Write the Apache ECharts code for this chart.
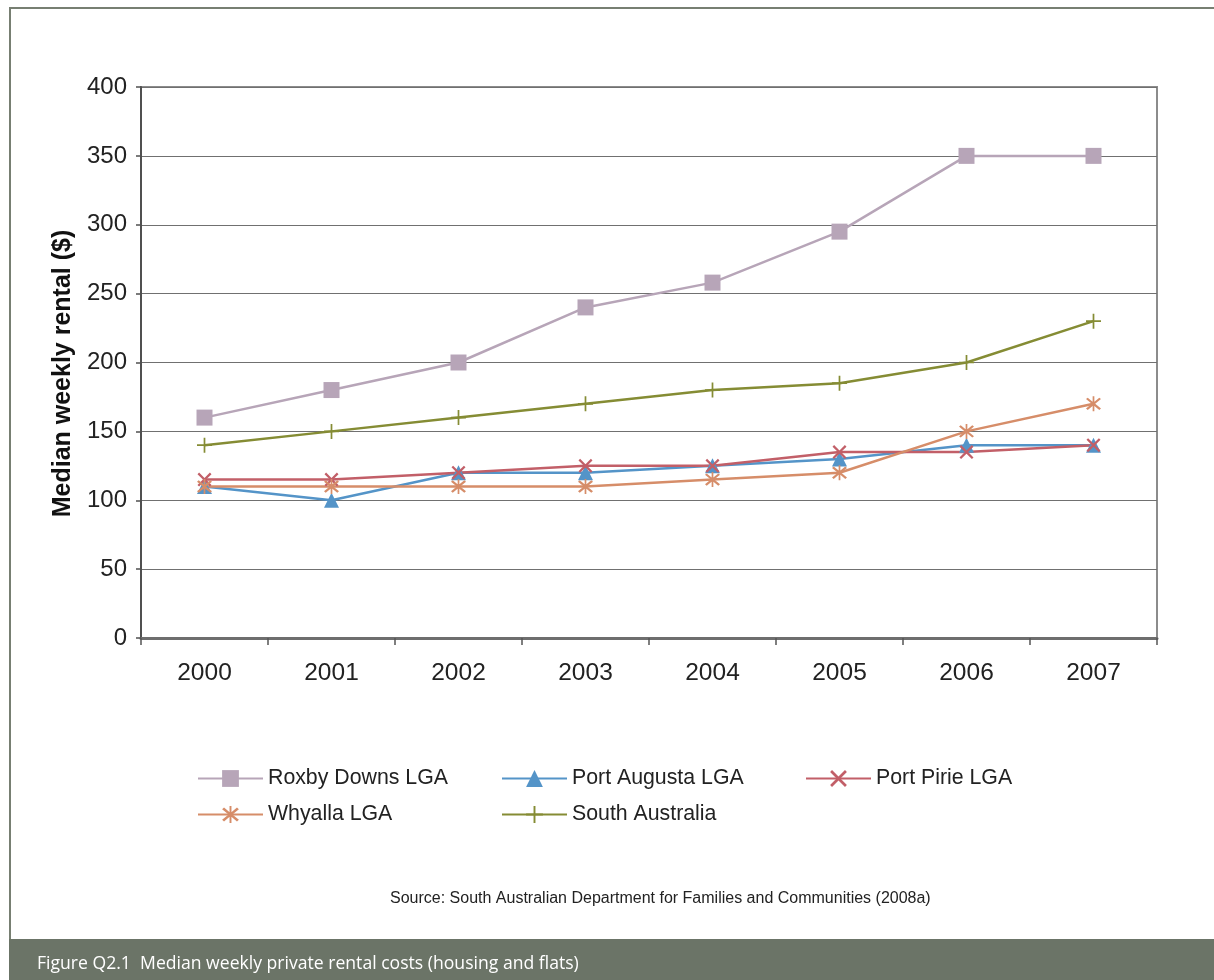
<!DOCTYPE html>
<html>
<head>
<meta charset="utf-8">
<title>Median weekly private rental costs</title>
<script src="https://cdn.jsdelivr.net/npm/echarts@6/dist/echarts.min.js"></script>
<style>
  html, body { margin: 0; padding: 0; background: #ffffff; }
  #chart { width: 1214px; height: 980px; }
</style>
</head>
<body>
<div id="chart"></div>
<script>
// Years on the category axis
const years = ['2000', '2001', '2002', '2003', '2004', '2005', '2006', '2007'];

// Median weekly rent ($) by area
const roxbyDowns   = [160, 180, 200, 240, 258, 295, 350, 350];
const portAugusta  = [110, 100, 120, 120, 125, 130, 140, 140];
const portPirie    = [115, 115, 120, 125, 125, 135, 135, 140];
const whyalla      = [110, 110, 110, 110, 115, 120, 150, 170];
const southAust    = [140, 150, 160, 170, 180, 185, 200, 230];

const seriesNames = ['Roxby Downs LGA', 'Port Augusta LGA', 'Port Pirie LGA', 'Whyalla LGA', 'South Australia'];

const figureCaption = 'Figure Q2.1  Median weekly private rental costs (housing and flats)';
const sourceNote = 'Source: South Australian Department for Families and Communities (2008a)';

const sansFont = 'Liberation Sans, Arial, sans-serif';

// Marker outlines: a thick "x", a six-armed asterisk and a thin plus
const crossPath = 'path://M0,1.6 L1.6,0 L7,5.4 L12.4,0 L14,1.6 L8.6,7 L14,12.4 L12.4,14 L7,8.6 L1.6,14 L0,12.4 L5.4,7 Z';
const starPath = 'path://M0,1.6 L1.6,0 L7,5.4 L12.4,0 L14,1.6 L8.6,7 L14,12.4 L12.4,14 L7,8.6 L1.6,14 L0,12.4 L5.4,7 Z M6.2,-1.5 L7.8,-1.5 L7.8,15.5 L6.2,15.5 Z';
const plusPath = 'path://M6.2,0 L7.8,0 L7.8,6.2 L14,6.2 L14,7.8 L7.8,7.8 L7.8,14 L6.2,14 L6.2,7.8 L0,7.8 L0,6.2 L6.2,6.2 Z';

const colors = ['#b7a5b8', '#5494c8', '#c25f68', '#d68d69', '#858c34'];

function lineSeries(name, data, color, symbol, size) {
  return {
    name: name,
    type: 'line',
    data: data,
    symbol: symbol,
    symbolSize: size,
    showSymbol: true,
    lineStyle: { color: color, width: 2.5 },
    itemStyle: { color: color, borderWidth: 0 },
    emphasis: { disabled: true },
    animation: false
  };
}

const chart = echarts.init(document.getElementById('chart'), null, { renderer: 'canvas' });

chart.setOption({
  animation: false,
  backgroundColor: '#ffffff',
  textStyle: { fontFamily: sansFont },
  grid: {
    left: 141, right: 57, top: 87, bottom: 342,
    show: true,
    borderColor: '#8c8c8c',
    borderWidth: 2,
    containLabel: false
  },
  legend: {
    left: 197,
    top: 763,
    width: 940,
    padding: 0,
    itemWidth: 65,
    itemHeight: 21,
    itemGap: 5,
    selectedMode: false,
    data: seriesNames,
    textStyle: {
      fontFamily: sansFont,
      fontSize: 21.3,
      color: '#222222',
      width: 228,
      height: 31,
      lineHeight: 31,
      padding: [0, 0, 0, 0]
    }
  },
  xAxis: {
    type: 'category',
    data: years,
    boundaryGap: true,
    axisLine: { show: true, lineStyle: { color: '#6e6e6e', width: 3 } },
    axisTick: { show: true, length: 7, inside: false, lineStyle: { color: '#555555', width: 1.5 } },
    axisLabel: { fontFamily: sansFont, fontSize: 24.5, color: '#222222', margin: 23 },
    splitLine: { show: false }
  },
  yAxis: {
    type: 'value',
    min: 0,
    max: 400,
    interval: 50,
    name: 'Median weekly rental ($)',
    nameLocation: 'middle',
    nameGap: 65,
    nameRotate: 90,
    nameTextStyle: {
      fontFamily: sansFont, fontSize: 25, fontWeight: 'bold', color: '#111111',
      padding: [0, 22, 0, 0]
    },
    axisLine: { show: true, lineStyle: { color: '#505050', width: 2 } },
    axisTick: { show: true, length: 5, lineStyle: { color: '#505050', width: 1.5 } },
    axisLabel: { fontFamily: sansFont, fontSize: 24, color: '#222222', margin: 14 },
    splitLine: { show: true, lineStyle: { color: '#707070', width: 1.2 } }
  },
  series: [
    lineSeries(seriesNames[0], roxbyDowns, colors[0], 'rect', 16),
    lineSeries(seriesNames[1], portAugusta, colors[1], 'triangle', 15),
    lineSeries(seriesNames[2], portPirie, colors[2], crossPath, 14),
    lineSeries(seriesNames[3], whyalla, colors[3], starPath, 15),
    lineSeries(seriesNames[4], southAust, colors[4], plusPath, 15)
  ],
  graphic: [
    {
      type: 'rect',
      silent: true,
      z: -10,
      shape: { x: 10, y: 8, width: 1230, height: 940 },
      style: { fill: 'none', stroke: '#777f72', lineWidth: 2 }
    },
    {
      type: 'rect',
      silent: true,
      z: 10,
      shape: { x: 9, y: 939, width: 1210, height: 41 },
      style: { fill: '#6b7467' }
    },
    {
      type: 'text',
      silent: true,
      z: 11,
      left: 37,
      top: 955,
      style: {
        text: figureCaption,
        fill: '#ffffff',
        fontSize: 17.6,
        fontFamily: 'Liberation Sans Narrow, Open Sans, sans-serif'
      }
    },
    {
      type: 'text',
      silent: true,
      left: 390,
      top: 891,
      style: {
        text: sourceNote,
        fill: '#222222',
        fontSize: 16,
        fontFamily: sansFont
      }
    }
  ]
});
</script>
</body>
</html>
